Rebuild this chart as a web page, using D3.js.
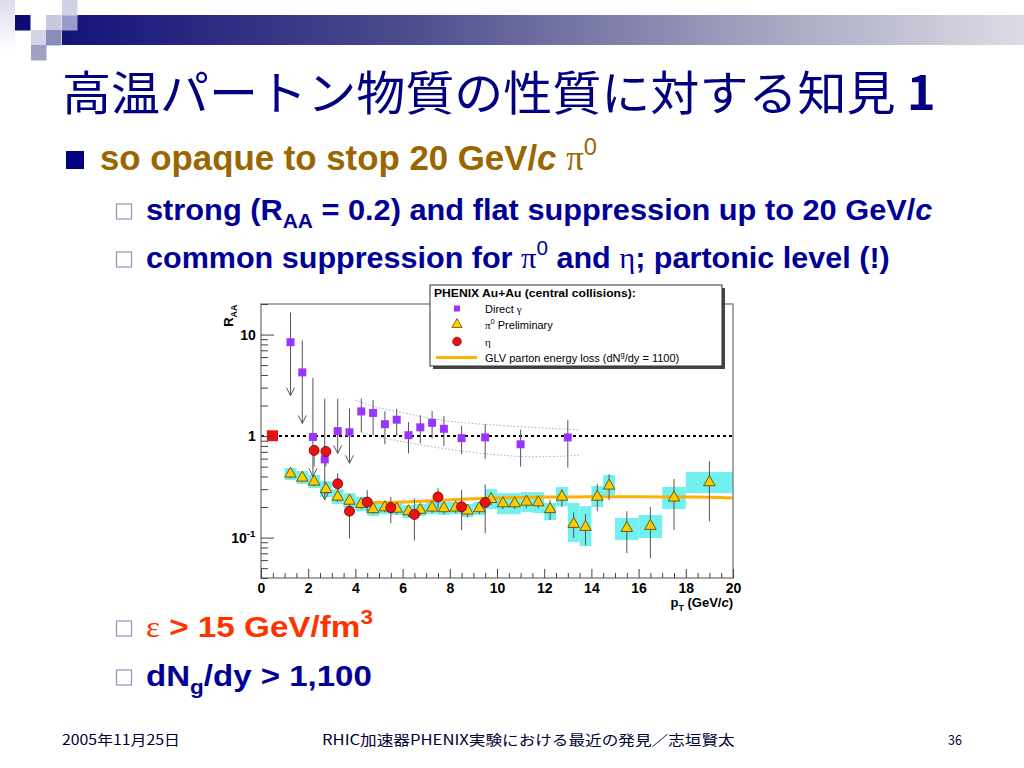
<!DOCTYPE html>
<html>
<head>
<meta charset="utf-8">
<script src="https://cdn.jsdelivr.net/npm/d3@7"></script>
<style>
body { margin: 0; background: #fff; }
text { white-space: pre; }
</style>
</head>
<body>
<svg id="slide" width="1024" height="768"></svg>
<script>
// ---- data ----
// direct photons (first six are upper-limit style, with arrows)
var directPt    = [1.25, 1.75, 2.2, 2.7, 3.25, 3.75, 4.25, 4.75, 5.25, 5.75, 6.25, 6.75, 7.25, 7.75, 8.5, 9.5, 11, 13];
var directR     = [8.4, 4.24, 0.98, 0.59, 1.12, 1.09, 1.75, 1.69, 1.31, 1.45, 1.02, 1.22, 1.35, 1.18, 0.955, 0.97, 0.83, 0.97];
var directHi    = [16.5, 8.77, 3.75, 2.33, 2.33, 1.87, 2.35, 2.26, 1.76, 1.85, 1.37, 1.61, 1.76, 1.57, 1.26, 1.31, 1.16, 1.44];
var directLo    = [2.5, 1.33, 0.40, 0.235, 0.675, 0.54, 1.09, 1.03, 0.83, 1.0, 0.675, 0.85, 0.95, 0.80, 0.66, 0.60, 0.50, 0.49];
var directArrow = [1, 1, 1, 1, 1, 1, 0, 0, 0, 0, 0, 0, 0, 0, 0, 0, 0, 0];

// dotted band around the direct photon expectation
var bandUpPt = [4.0, 5, 6, 6.8, 8, 10, 12, 13.5];
var bandUpR  = [2.26, 1.9, 1.70, 1.55, 1.40, 1.28, 1.2, 1.15];
var bandLoPt = [4.3, 5, 6, 7, 8, 9, 10, 11.5, 12.5, 13.5];
var bandLoR  = [1.08, 0.98, 0.88, 0.80, 0.74, 0.69, 0.655, 0.625, 0.63, 0.65];

// pi0 preliminary
var pi0Pt   = [1.25, 1.75, 2.25, 2.75, 3.25, 3.75, 4.25, 4.75, 5.25, 5.75, 6.25, 6.75, 7.25, 7.75, 8.25, 8.75, 9.25, 9.75, 10.25, 10.75, 11.25, 11.75, 12.25, 12.75, 13.25, 13.75, 14.25, 14.75, 15.5, 16.5, 17.5, 19];
var pi0R    = [0.425, 0.388, 0.355, 0.300, 0.252, 0.230, 0.214, 0.190, 0.198, 0.192, 0.181, 0.187, 0.197, 0.194, 0.197, 0.184, 0.194, 0.239, 0.217, 0.217, 0.225, 0.222, 0.190, 0.252, 0.136, 0.127, 0.252, 0.324, 0.124, 0.130, 0.247, 0.350];
var pi0Hi   = [0.462, 0.432, 0.395, 0.337, 0.281, 0.256, 0.239, 0.214, 0.224, 0.219, 0.209, 0.209, 0.224, 0.219, 0.224, 0.214, 0.224, 0.274, 0.251, 0.251, 0.256, 0.256, 0.234, 0.300, 0.178, 0.170, 0.337, 0.422, 0.182, 0.200, 0.377, 0.567];
var pi0Lo   = [0.386, 0.352, 0.322, 0.268, 0.224, 0.209, 0.191, 0.170, 0.178, 0.170, 0.159, 0.167, 0.174, 0.170, 0.174, 0.159, 0.170, 0.209, 0.191, 0.191, 0.195, 0.195, 0.149, 0.200, 0.099, 0.0843, 0.182, 0.234, 0.0704, 0.0628, 0.119, 0.145];
var pi0SysHi = [0.484, 0.452, 0.413, 0.360, 0.300, 0.274, 0.251, 0.219, 0.229, 0.224, 0.209, 0.214, 0.224, 0.224, 0.224, 0.214, 0.224, 0.300, 0.274, 0.274, 0.281, 0.281, 0.219, 0.315, 0.219, 0.204, 0.322, 0.413, 0.156, 0.167, 0.315, 0.442];
var pi0SysLo = [0.368, 0.337, 0.307, 0.251, 0.214, 0.195, 0.182, 0.163, 0.170, 0.167, 0.156, 0.163, 0.170, 0.167, 0.170, 0.159, 0.167, 0.191, 0.170, 0.170, 0.178, 0.174, 0.149, 0.204, 0.0903, 0.0825, 0.200, 0.262, 0.0945, 0.099, 0.191, 0.274];
var pi0HalfBin = [0.25, 0.25, 0.25, 0.25, 0.25, 0.25, 0.25, 0.25, 0.25, 0.25, 0.25, 0.25, 0.25, 0.25, 0.25, 0.25, 0.25, 0.25, 0.25, 0.25, 0.25, 0.25, 0.25, 0.25, 0.25, 0.25, 0.25, 0.25, 0.5, 0.5, 0.5, 1.0];

// eta
var etaPt = [2.25, 2.75, 3.25, 3.75, 4.5, 5.5, 6.5, 7.5, 8.5, 9.5];
var etaR  = [0.723, 0.706, 0.339, 0.182, 0.224, 0.197, 0.169, 0.251, 0.201, 0.222];
var etaHi = [0.80, 0.78, 0.429, 0.252, 0.294, 0.252, 0.243, 0.306, 0.294, 0.334];
var etaLo = [0.50, 0.50, 0.272, 0.098, 0.174, 0.138, 0.094, 0.194, 0.119, 0.110];

// GLV parton energy loss curve
var glvPt = [4.4, 6, 7, 8, 9, 10, 11, 12, 14, 16, 18, 19.5, 20];
var glvR  = [0.221, 0.224, 0.229, 0.235, 0.241, 0.246, 0.249, 0.251, 0.252, 0.252, 0.251, 0.249, 0.246];

// normalisation uncertainty box at R_AA = 1
var normPt = [0.25, 0.72];
var normR  = [0.89, 1.14];

var xTicks = [0, 2, 4, 6, 8, 10, 12, 14, 16, 18, 20];
var yTicks = [0.1, 1, 10];
var yTickLabels = [["10", "-1"], ["1", ""], ["10", ""]];

// ---- helpers ----
var svg = d3.select("#slide");

function rich(parent, x, y, parts, o) {
    var g = parent.append("g");
    var t = g.append("text")
        .attr("font-family", o.font || "Liberation Sans")
        .attr("font-size", o.size)
        .attr("font-weight", o.bold ? "bold" : "normal")
        .attr("fill", o.color || "#000");
    var shift = 0;
    parts.forEach(function(p) {
        if (typeof p == "string") p = {t: p};
        var s = t.append("tspan").text(p.t);
        var want = p.sup ? -0.42 * o.size : (p.sub ? 0.28 * o.size : 0);
        if (want != shift) { s.attr("dy", want - shift); shift = want; }
        if (p.sup || p.sub) s.attr("font-size", o.size * 0.68);
        if (p.it) s.attr("font-style", "italic");
        if (p.serif) s.attr("font-family", "Liberation Serif");
        if (p.bold) s.attr("font-weight", "bold");
        if (p.light) s.attr("font-weight", "normal");
    });
    var b = t.node().getBBox();
    var k = o.width ? o.width / b.width : 1;
    var w = b.width * k;
    var x0 = o.anchor == "end" ? x - w : (o.anchor == "middle" ? x - w / 2 : x);
    g.attr("transform", "translate(" + (x0 - b.x * k) + "," + y + ") scale(" + k + ",1)");
    return g;
}

// ---- slide decoration ----
var defs = svg.append("defs");
var grad = defs.append("linearGradient").attr("id", "bar");
grad.append("stop").attr("offset", "0").attr("stop-color", "#13137a");
grad.append("stop").attr("offset", "0.35").attr("stop-color", "#4a4a8c");
grad.append("stop").attr("offset", "0.75").attr("stop-color", "#a9a9c3");
grad.append("stop").attr("offset", "1").attr("stop-color", "#dcdce6");
var fade = defs.append("linearGradient").attr("id", "fade").attr("x1", 0).attr("y1", 0).attr("x2", 0).attr("y2", 1);
fade.append("stop").attr("offset", "0").attr("stop-color", "#dcdcec");
fade.append("stop").attr("offset", "1").attr("stop-color", "#ffffff");

svg.append("rect").attr("x", 0).attr("y", 0).attr("width", 15).attr("height", 50).attr("fill", "url(#fade)");
svg.append("rect").attr("x", 62).attr("y", 15).attr("width", 962).attr("height", 30).attr("fill", "url(#bar)");
var squares = [
    [15, 15, "#0b0b72"], [46, 15, "#c8c8e0"], [62, 15, "#9a9acb"], [62, 0, "#d2d2e6"],
    [31, 30, "#d4d4e6"], [46, 30, "#8c8cba"], [31, 45, "#a0a0c4"]
];
svg.selectAll("rect.deco").data(squares).enter().append("rect").attr("class", "deco")
    .attr("x", function(d) { return d[0]; }).attr("y", function(d) { return d[1]; })
    .attr("width", 15.5).attr("height", 15.5).attr("fill", function(d) { return d[2]; });

// ---- title and bullets ----
rich(svg, 62, 110, ["高温パートン物質の性質に対する知見", {t: " 1", bold: true}],
    {font: "Noto Sans CJK JP", size: 47, color: "#000080", width: 874});

svg.append("rect").attr("x", 66).attr("y", 151).attr("width", 18).attr("height", 18).attr("fill", "#000080");
rich(svg, 100, 170, ["so opaque to stop 20 GeV/", {t: "c", it: true}, " ", {t: "π", serif: true, light: true}, {t: "0", sup: true, light: true}],
    {size: 36, bold: true, color: "#996600", width: 497});

[212, 260, 629, 678].forEach(function(yy) {
    svg.append("rect").attr("x", 116.5).attr("y", yy - 8).attr("width", 15).attr("height", 15)
        .attr("fill", "#fff").attr("stroke", "#9a9ab8").attr("stroke-width", 1.3);
});
rich(svg, 146, 220, ["strong (R", {t: "AA", sub: true}, " = 0.2) and flat suppression up to 20 GeV/", {t: "c", it: true}],
    {size: 30, bold: true, color: "#000099", width: 787});
rich(svg, 146, 268, ["common suppression for ", {t: "π", serif: true, light: true}, {t: "0", sup: true, light: true}, " and ", {t: "η", serif: true, light: true}, "; partonic level (!)"],
    {size: 30, bold: true, color: "#000099", width: 744});
rich(svg, 146, 637, [{t: "ε", serif: true, light: true}, " > 15 GeV/fm", {t: "3", sup: true}],
    {size: 30, bold: true, color: "#ff3300", width: 227});
rich(svg, 146, 686, ["dN", {t: "g", sub: true}, "/dy > 1,100"],
    {size: 30, bold: true, color: "#000099", width: 226});

// footer
rich(svg, 62, 745, ["2005年11月25日"], {font: "Noto Sans CJK JP", size: 14, color: "#000033", width: 118});
rich(svg, 322, 745, ["RHIC加速器PHENIX実験における最近の発見／志垣賢太"], {font: "Noto Sans CJK JP", size: 14, color: "#000033", width: 413});
rich(svg, 962, 745, ["36"], {font: "Noto Sans CJK JP", size: 14, color: "#000033", anchor: "end", width: 14});

// ---- chart ----
var x = d3.scaleLinear().domain([0, 20]).range([261, 733]);
var y = d3.scaleLog().domain([0.04, 20]).range([578, 304]);

var plot = svg.append("g");

// pi0 systematic boxes
plot.selectAll("rect.sys").data(pi0Pt).enter().append("rect").attr("class", "sys")
    .attr("x", function(d, i) { return x(d - pi0HalfBin[i]); })
    .attr("width", function(d, i) { return x(d + pi0HalfBin[i]) - x(d - pi0HalfBin[i]); })
    .attr("y", function(d, i) { return y(pi0SysHi[i]); })
    .attr("height", function(d, i) { return y(pi0SysLo[i]) - y(pi0SysHi[i]); })
    .attr("fill", "#72f0f0");

// dotted band
var bandLine = d3.line().curve(d3.curveMonotoneX)
    .x(function(d) { return x(d[0]); }).y(function(d) { return y(d[1]); });
[[bandUpPt, bandUpR], [bandLoPt, bandLoR]].forEach(function(b) {
    plot.append("path").datum(d3.zip(b[0], b[1])).attr("d", bandLine)
        .attr("fill", "none").attr("stroke", "#a8a8d8").attr("stroke-width", 1)
        .attr("stroke-dasharray", "1.5,2");
});

// R_AA = 1 reference line
plot.append("line").attr("x1", x(0)).attr("x2", x(20)).attr("y1", y(1)).attr("y2", y(1))
    .attr("stroke", "#000").attr("stroke-width", 2).attr("stroke-dasharray", "3,3");

// GLV curve
plot.append("path").datum(d3.zip(glvPt, glvR)).attr("d", bandLine)
    .attr("fill", "none").attr("stroke", "#ffb000").attr("stroke-width", 3);

// error bars
function bars(pt, lo, hi) {
    plot.selectAll(null).data(pt).enter().append("line")
        .attr("x1", function(d) { return x(d); }).attr("x2", function(d) { return x(d); })
        .attr("y1", function(d, i) { return y(hi[i]); }).attr("y2", function(d, i) { return y(lo[i]); })
        .attr("stroke", "#555").attr("stroke-width", 1);
}
bars(directPt, directLo, directHi);
bars(pi0Pt, pi0Lo, pi0Hi);
bars(etaPt, etaLo, etaHi);

// arrows on direct photon limits
plot.selectAll("path.arrow").data(directPt.filter(function(d, i) { return directArrow[i]; })).enter()
    .append("path").attr("class", "arrow")
    .attr("d", function(d, i) {
        var px = x(d), py = y(directLo[i]);
        return "M" + (px - 4) + "," + (py - 8) + "L" + px + "," + py + "L" + (px + 4) + "," + (py - 8);
    })
    .attr("fill", "none").attr("stroke", "#555").attr("stroke-width", 1);

// normalisation box
plot.append("rect").attr("x", x(normPt[0])).attr("width", x(normPt[1]) - x(normPt[0]))
    .attr("y", y(normR[1])).attr("height", y(normR[0]) - y(normR[1])).attr("fill", "#ee1111");

// markers
var sq = d3.symbol().type(d3.symbolSquare).size(64);
var tri = d3.symbol().type(d3.symbolTriangle).size(58);
plot.selectAll("path.dir").data(directPt).enter().append("path").attr("class", "dir")
    .attr("transform", function(d, i) { return "translate(" + x(d) + "," + y(directR[i]) + ")"; })
    .attr("d", sq).attr("fill", "#9933ff");
plot.selectAll("path.pi0").data(pi0Pt).enter().append("path").attr("class", "pi0")
    .attr("transform", function(d, i) { return "translate(" + x(d) + "," + y(pi0R[i]) + ")"; })
    .attr("d", tri).attr("fill", "#ffcc00").attr("stroke", "#5a5000").attr("stroke-width", 0.9);
plot.selectAll("circle.eta").data(etaPt).enter().append("circle").attr("class", "eta")
    .attr("cx", function(d) { return x(d); }).attr("cy", function(d, i) { return y(etaR[i]); })
    .attr("r", 5).attr("fill", "#ee1111").attr("stroke", "#660000").attr("stroke-width", 0.8);

// frame
svg.append("rect").attr("x", x(0)).attr("y", y(20)).attr("width", x(20) - x(0)).attr("height", y(0.04) - y(20))
    .attr("fill", "none").attr("stroke", "#8a8a8a").attr("stroke-width", 1.5);

// axes
function styleAxis(g) {
    g.select(".domain").remove();
    g.selectAll(".tick line").attr("stroke", "#444");
    g.selectAll("text").attr("font-family", "Liberation Sans").attr("font-weight", "bold")
        .attr("font-size", 14).attr("fill", "#000");
}
svg.append("g").attr("transform", "translate(0," + y(0.04) + ")")
    .call(d3.axisBottom(x).tickValues(x.ticks(40).filter(function(d) { return d % 2 != 0; })).tickSize(-5).tickFormat(""))
    .call(styleAxis);
svg.append("g").attr("transform", "translate(0," + y(0.04) + ")")
    .call(d3.axisBottom(x).tickValues(xTicks).tickSize(-9).tickPadding(5).tickFormat(d3.format("d")))
    .call(styleAxis);
svg.append("g").attr("transform", "translate(" + x(0) + ",0)")
    .call(d3.axisLeft(y).tickValues(y.ticks().filter(function(d) { return yTicks.indexOf(d) < 0; })).tickSize(-7).tickFormat(""))
    .call(styleAxis);
svg.append("g").attr("transform", "translate(" + x(0) + ",0)")
    .call(d3.axisLeft(y).tickValues(yTicks).tickSize(-13).tickFormat(""))
    .call(styleAxis);
yTicks.forEach(function(v, i) {
    var lab = yTickLabels[i];
    var parts = [lab[0]];
    if (lab[1]) parts.push({t: lab[1], sup: true});
    rich(svg, 256, y(v) + 5, parts, {size: 14, bold: true, anchor: "end"});
});

// axis titles
var yt = svg.append("g").attr("transform", "translate(233," + y(20) + ") rotate(-90)");
rich(yt, 0, 0, ["R", {t: "AA", sub: true}], {size: 13, bold: true, anchor: "end"});
rich(svg, x(20), 607, ["p", {t: "T", sub: true}, " (GeV/", {t: "c", it: true}, ")"], {size: 13, bold: true, anchor: "end"});

// ---- legend ----
var lg = svg.append("g");
lg.append("rect").attr("x", 433).attr("y", 288).attr("width", 292).attr("height", 81).attr("fill", "#444");
lg.append("rect").attr("x", 430).attr("y", 285).attr("width", 292).attr("height", 81)
    .attr("fill", "#fff").attr("stroke", "#333").attr("stroke-width", 1);
rich(lg, 434, 297, ["PHENIX Au+Au (central collisions):"], {size: 11, bold: true, width: 202});
lg.append("path").attr("transform", "translate(457,308.5)").attr("d", d3.symbol().type(d3.symbolSquare).size(36)).attr("fill", "#9933ff");
lg.append("path").attr("transform", "translate(457,324.5)").attr("d", d3.symbol().type(d3.symbolTriangle).size(45))
    .attr("fill", "#ffcc00").attr("stroke", "#5a5000").attr("stroke-width", 0.8);
lg.append("circle").attr("cx", 457).attr("cy", 341.5).attr("r", 4.3).attr("fill", "#ee1111").attr("stroke", "#660000").attr("stroke-width", 0.7);
lg.append("line").attr("x1", 436).attr("x2", 477).attr("y1", 357.5).attr("y2", 357.5).attr("stroke", "#ffb000").attr("stroke-width", 3);
rich(lg, 485, 313, ["Direct ", {t: "γ", serif: true}], {size: 11});
rich(lg, 485, 329, [{t: "π", serif: true}, {t: "0", sup: true}, " Preliminary"], {size: 11});
rich(lg, 485, 346, [{t: "η", serif: true}], {size: 11});
rich(lg, 485, 362, ["GLV parton energy loss (dN", {t: "g", sup: true}, "/dy = 1100)"], {size: 11});
</script>
</body>
</html>
